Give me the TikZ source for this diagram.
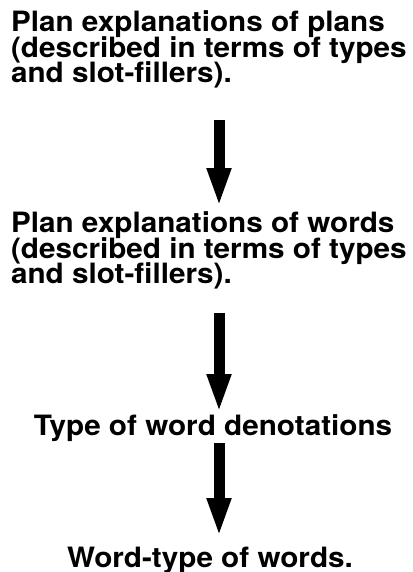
\documentclass[tikz,border=0pt]{standalone}
\usepackage{fontspec}
\setmainfont{TeX Gyre Heros}[FakeStretch=1.06]
\usetikzlibrary{arrows.meta,calc}
\begin{document}
\begin{tikzpicture}[x=1pt,y=-1pt,
  line/.style={inner sep=0pt, outer sep=0pt, text height=20pt, text depth=4pt,
    font=\bfseries\fontsize{28}{25.5}\selectfont},
  leftline/.style={line, anchor=base west},
  midline/.style={line, anchor=base},
  flow/.style={line width=11pt, -{Triangle[width=22pt,length=39pt]}}]
\useasboundingbox (0,0) rectangle (412,572);
\coordinate (spine) at (219,0);
% first statement
\node[leftline] (p1a) at (11,32) {Plan explanations of plans};
\node[leftline] (p1b) at (11,57.5) {(described in terms of types};
\node[leftline] (p1c) at (11,83) {and slot-fillers).};
% second statement
\node[leftline] (p2a) at (11,232.5) {Plan explanations of words};
\node[leftline] (p2b) at (11,258) {(described in terms of types};
\node[leftline] (p2c) at (11,283.5) {and slot-fillers).};
% third and fourth statements
\node[midline] (t3) at (213,435) {Type of word denotations};
\node[midline] (w4) at (210,567) {Word-type of words.};
% arrows between the statements
\draw[flow] ($(p1c.base -| spine)+(0,37)$) -- ($(p2a.base -| spine)+(0,-25.5)$);
\draw[flow] ($(p2c.base -| spine)+(0,29.5)$) -- ($(t3.base -| spine)+(0,-22)$);
\draw[flow] ($(t3.base -| spine)+(0,8)$) -- ($(w4.base -| spine)+(0,-30)$);
\end{tikzpicture}
\end{document}
